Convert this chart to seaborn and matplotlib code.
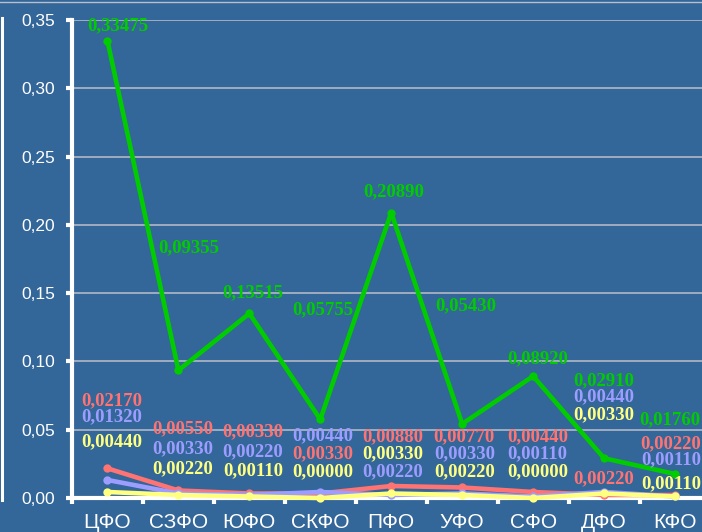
import matplotlib
matplotlib.use("Agg")
import matplotlib.pyplot as plt
import seaborn as sns
import pandas as pd
from matplotlib.lines import Line2D
from matplotlib.ticker import FuncFormatter

# federal districts
districts = ["ЦФО", "СЗФО", "ЮФО", "СКФО", "ПФО", "УФО", "СФО", "ДФО", "КФО"]

green_vals = [0.33475, 0.09355, 0.13515, 0.05755, 0.20890, 0.05430, 0.08920, 0.02910, 0.01760]
red_vals = [0.02170, 0.00550, 0.00330, 0.00330, 0.00880, 0.00770, 0.00440, 0.00220, 0.00220]
blue_vals = [0.01320, 0.00330, 0.00220, 0.00440, 0.00220, 0.00330, 0.00110, 0.00440, 0.00110]
yellow_vals = [0.00440, 0.00220, 0.00110, 0.00000, 0.00330, 0.00220, 0.00000, 0.00330, 0.00110]

y_ticks = [0.00, 0.05, 0.10, 0.15, 0.20, 0.25, 0.30, 0.35]

# where the value labels sit (data units)
green_label_y = [0.3456, 0.1836, 0.1506, 0.1379, 0.2243, 0.1408, 0.1018, 0.0859, 0.0571]
red_label_y = [0.0712, 0.0510, 0.0485, 0.0327, 0.0452, 0.0452, 0.0452, 0.0144, 0.0401]
blue_label_y = [0.0595, 0.0364, 0.0339, 0.0454, 0.0193, 0.0327, 0.0327, 0.0742, 0.0278]
yellow_label_y = [0.0412, 0.0212, 0.0203, 0.0190, 0.0327, 0.0193, 0.0193, 0.0608, 0.0108]
green_label_dx = [0.14, 0.15, 0.05, 0.04, 0.04, 0.05, 0.06, 0.0, -0.07]
other_label_dx = [0.06, 0.06, 0.05, 0.04, 0.02, 0.03, 0.06, 0.0, -0.06]

colors = {"red": "#ff7373", "blue": "#9d9dff", "yellow": "#ffff80", "green": "#00cc00"}
bg = "#336699"

rows = []
for name, vals in [("red", red_vals), ("blue", blue_vals), ("yellow", yellow_vals), ("green", green_vals)]:
    for i, v in enumerate(vals):
        rows.append({"pos": i, "value": v, "series": name})
df = pd.DataFrame(rows)

fig = plt.figure(figsize=(7.02, 5.32), dpi=100, facecolor=bg)
ax = fig.add_axes([72 / 702, 34 / 532, 638.5 / 702, 478 / 532])
ax.set_facecolor(bg)

sns.lineplot(data=df, x="pos", y="value", hue="series", palette=colors,
             hue_order=["red", "blue", "yellow", "green"], marker="o",
             markersize=6, markeredgewidth=0, linewidth=3.3, sort=False,
             legend=False, ax=ax, zorder=3, clip_on=False)

fmt = lambda v: f"{v:.5f}".replace(".", ",")
label_font = dict(family="Liberation Serif", weight="bold", size=13.5,
                  ha="center", va="center")
for vals, ys, dxs, name in [(green_vals, green_label_y, green_label_dx, "green"),
                            (red_vals, red_label_y, other_label_dx, "red"),
                            (blue_vals, blue_label_y, other_label_dx, "blue"),
                            (yellow_vals, yellow_label_y, other_label_dx, "yellow")]:
    for i, (v, y) in enumerate(zip(vals, ys)):
        ax.text(i + dxs[i], y, fmt(v), color=colors[name], **label_font)

ax.set_xlim(-0.5, 8.5)
ax.set_ylim(0, 0.35)
ax.set_yticks(y_ticks)
ax.yaxis.set_major_formatter(FuncFormatter(lambda v, p: f"{v:.2f}".replace(".", ",")))
ax.set_xticks(range(len(districts)))
ax.set_xticklabels(districts)
ax.set_xticks([i + 0.5 for i in range(-1, len(districts))], minor=True)
ax.set_xlabel("")
ax.set_ylabel("")

ax.yaxis.grid(True, color="#a9b1c0", linewidth=1.3)
ax.xaxis.grid(False)
ax.set_axisbelow(True)

for side in ["top", "right"]:
    ax.spines[side].set_visible(False)
for side in ["left", "bottom"]:
    ax.spines[side].set_color("white")
    ax.spines[side].set_linewidth(3)

ax.tick_params(axis="y", length=4, width=3, color="white", pad=8,
               labelcolor="white", labelsize=12.5)
ax.tick_params(axis="x", which="major", length=0, pad=11,
               labelcolor="white", labelsize=15)
ax.tick_params(axis="x", which="minor", length=4, width=3, color="white")
for t in ax.get_xticklabels() + ax.get_yticklabels():
    t.set_family("Liberation Sans")

# edges of the neighbouring frame visible in the screenshot
fig.add_artist(Line2D([0, 1], [1 - 2 / 532] * 2, color="#b8c0cc", lw=1))
fig.add_artist(Line2D([2 / 702] * 2, [1 - 18 / 532, 1 - 500 / 532], color="white", lw=2.2))

fig.savefig("out.png", dpi=100, facecolor=bg)
